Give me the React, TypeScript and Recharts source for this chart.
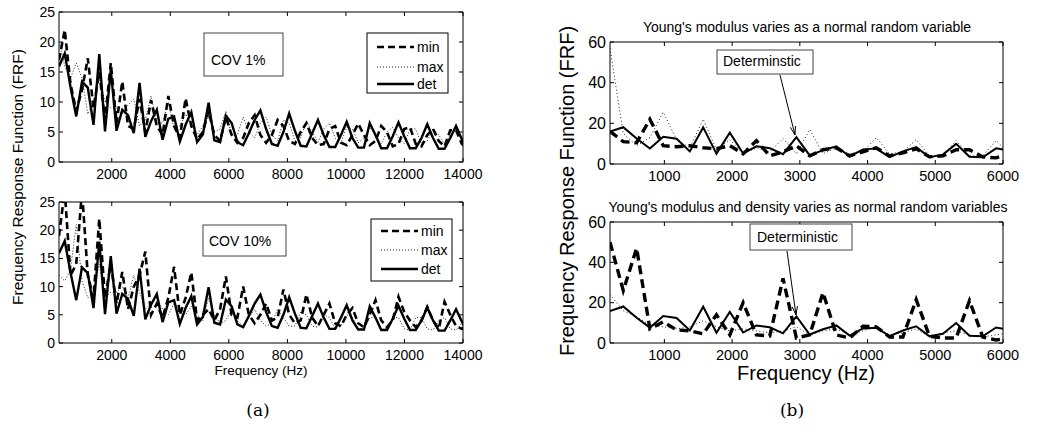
import { LineChart, Line, XAxis, YAxis } from 'recharts';

/* ------------------------------------------------------------------ */
/* Data                                            */
/* ------------------------------------------------------------------ */

const FREQ_HZ = [
  197, 393, 590, 786, 983, 1180, 1376, 1573, 1769, 1966, 2163, 2359, 2556, 2752, 2949, 3146,
  3342, 3539, 3735, 3932, 4129, 4325, 4522, 4718, 4915, 5112, 5308, 5505, 5701, 5898, 6095,
  6291, 6488, 6684, 6881, 7078, 7274, 7471, 7667, 7864, 8061, 8257, 8454, 8650, 8847, 9044,
  9240, 9437, 9633, 9830, 10027, 10223, 10420, 10616, 10813, 11010, 11206, 11403, 11599,
  11796, 11993, 12189, 12386, 12582, 12779, 12976, 13172, 13369, 13565, 13762, 13959, 14155,
];

// deterministic FRF (same curve in every panel)
const DET_FRF = [
  15.9, 18.1, 12.5, 7.6, 13.4, 12.4, 6.2, 18.0, 5.1, 15.4,
  5.2, 8.7, 7.8, 4.8, 13.2, 4.2, 6.8, 8.7, 3.7, 7.2,
  7.6, 3.4, 6.2, 8.3, 3.3, 4.6, 9.9, 3.6, 3.3, 7.7,
  6.5, 3.3, 2.8, 4.8, 7.0, 8.6, 5.5, 3.0, 2.7, 5.0,
  8.1, 5.2, 2.7, 2.6, 4.8, 7.0, 4.5, 2.5, 2.5, 4.5,
  6.7, 4.0, 2.4, 2.4, 6.5, 4.5, 2.3, 2.3, 4.3, 6.6,
  4.3, 2.3, 2.3, 4.0, 6.3, 4.0, 2.2, 2.2, 4.0, 6.0,
  3.8, 1.8,
];

const COV1_MIN = [
  17, 22, 13, 8.5, 12, 17.3, 9, 15, 7, 16.5,
  6.5, 13.4, 6, 5.5, 10.5, 5, 10.3, 6, 4.5, 11,
  6, 4, 10.6, 6, 3.8, 5, 8.5, 4.5, 3.5, 7.5,
  4.5, 3.2, 4, 6.5, 7.8, 4.5, 3.2, 4.5, 7, 6,
  3.5, 3, 5, 6.5, 4, 2.8, 3, 5.5, 6, 3.2,
  2.8, 4.5, 6.4, 4.5, 2.8, 3.5, 6, 5, 2.6, 3,
  5.5, 5.8, 3, 2.6, 4.5, 5.5, 3.5, 2.6, 5.3, 5.3,
  3, 2.3,
];
const COV1_MAX = [
  20, 16, 14, 16.5, 14, 8, 10, 14, 10, 9,
  9, 8, 9.5, 10.5, 6, 7, 11, 6.5, 6.5, 10,
  5.5, 6, 8, 6.5, 4.5, 6, 7.5, 5, 5.5, 8.5,
  4.5, 4.5, 7.5, 5, 4, 6.5, 7.5, 4.5, 3.5, 7,
  6.5, 3.5, 4, 6.8, 5, 3.3, 5.5, 6.5, 4, 3.2,
  5.8, 5.5, 3.2, 4, 5.8, 4.5, 3, 5, 5.8, 4,
  3, 5.5, 5.5, 3, 3.5, 5.6, 4.5, 3, 4.5, 5.5,
  4, 3,
];
const COV10_MIN = [
  19, 27, 12, 14, 27, 12, 8, 22, 8, 14,
  7, 12.6, 6, 10, 12, 16.2, 5, 7, 4.5, 8,
  13.5, 5, 8, 12.5, 4, 5, 6, 4, 6, 11.8,
  5, 4.5, 10, 5, 3.5, 5, 7, 4, 4.5, 9.5,
  5, 3.5, 4, 8.6, 4.5, 3, 5, 7, 3.5, 3,
  5, 6.2, 3.5, 2.8, 5, 7.6, 4, 2.8, 4, 8.2,
  5.5, 4, 2.8, 4, 6.4, 4, 2.5, 7.3, 5, 3,
  2.5, 3,
];
const COV10_MAX = [
  12, 11, 13, 21, 11, 8, 9, 14, 8, 9,
  9, 10, 8, 12, 9, 6, 7, 8, 6, 5,
  7, 6, 5, 6.5, 5, 4, 8, 5, 3.5, 4,
  6, 4, 3, 4.5, 6, 4, 3, 3.5, 6, 4.5,
  3, 3, 5.5, 5, 3, 2.8, 5, 4.5, 2.5, 3,
  5, 4.5, 2.5, 2.5, 4.5, 4.5, 2.4, 2.5, 4.5, 4.5,
  2.5, 2.3, 4.5, 4.5, 2.5, 2.3, 4, 4.5, 2.5, 2.3,
  3.5, 4,
];

// (b): first 31 frequencies only
const YOUNG_MIN = [
  16, 11, 10.5, 22, 9, 8.5, 9, 8, 7.5, 9, 5, 11.5, 4, 6, 9, 4, 7, 8, 4, 6, 8, 4, 5.5, 7.5,
  3.5, 4, 7, 7, 3.5, 3, 5,
];
const YOUNG_MAX = [
  57, 15, 9, 13, 25.5, 12, 8, 22, 7, 12, 5, 8, 6, 12.5, 5, 17, 5, 8, 5, 6, 13, 5, 6, 12, 4,
  4, 11.5, 4, 4, 11.5, 5,
];
const YOUNG_DENS_MIN = [
  50, 26, 47, 7, 10.5, 6.5, 6, 4.5, 14, 4, 20, 4, 3.5, 32, 2.5, 4, 25, 4, 2.5, 8.3, 8, 3, 3,
  21.5, 3.3, 2.5, 2.5, 21, 3, 1.5, 2.5,
];
const YOUNG_DENS_MAX = [
  24, 16, 13, 9, 8, 7, 8, 11, 8, 6, 7, 6, 5, 6, 8, 4, 6, 7, 4, 6, 8, 4, 5, 7, 3, 5, 6, 4, 3,
  4, 5,
];

const A_X_TICKS = [2000, 4000, 6000, 8000, 10000, 12000, 14000];
const A_Y_TICKS = [0, 5, 10, 15, 20, 25];
const B_X_TICKS = [1000, 2000, 3000, 4000, 5000, 6000];
const B_Y_TICKS = [0, 20, 40, 60];

/* ------------------------------------------------------------------ */
/* Styles                                                              */
/* ------------------------------------------------------------------ */

const FONT = '"Liberation Sans", Arial, Helvetica, sans-serif';
const SERIF = '"DejaVu Serif", "Liberation Serif", serif';
const INK = '#000';

type Row = { f: number; det: number; min: number; max: number };

function buildRows(n: number, det: number[], min: number[], max: number[]): Row[] {
  return FREQ_HZ.slice(0, n).map((f, i) => ({ f, det: det[i], min: min[i], max: max[i] }));
}

const rowsCov1 = buildRows(72, DET_FRF, COV1_MIN, COV1_MAX);
const rowsCov10 = buildRows(72, DET_FRF, COV10_MIN, COV10_MAX);
const rowsYoung = buildRows(31, DET_FRF, YOUNG_MIN, YOUNG_MAX);
const rowsYoungDens = buildRows(31, DET_FRF, YOUNG_DENS_MIN, YOUNG_DENS_MAX);

interface LineStyle {
  detWidth: number;
  dashWidth: number;
  dash: string;
  dot: string;
}

const STYLE_A: LineStyle = { detWidth: 2.4, dashWidth: 2.6, dash: '7 4', dot: '1 2' };
const STYLE_B: LineStyle = { detWidth: 2, dashWidth: 3.4, dash: '9 5', dot: '1 2.5' };

interface PanelProps {
  left: number;
  top: number;
  width: number;
  height: number;
  data: Row[];
  xDomain: [number, number];
  xTicks: number[];
  yDomain: [number, number];
  yTicks: number[];
  xFont: number;
  yFont: number;
  lines: LineStyle;
}

const PAD_L = 50;
const PAD_T = 10;
const PAD_R = 30;
const PAD_B = 30;

function Panel(p: PanelProps) {
  const blank = () => '';
  return (
    <div style={{ position: 'absolute', left: p.left - PAD_L, top: p.top - PAD_T }}>
      <LineChart
        width={p.width + PAD_L + PAD_R}
        height={p.height + PAD_T + PAD_B}
        data={p.data}
        margin={{ top: PAD_T - 1, right: PAD_R - 1, bottom: 0, left: 0 }}
      >
        <XAxis
          xAxisId="b"
          dataKey="f"
          type="number"
          domain={p.xDomain}
          ticks={p.xTicks}
          interval={0}
          allowDataOverflow
          height={PAD_B}
          tickSize={-4}
          tickMargin={11}
          stroke={INK}
          tick={{ fill: INK, fontSize: p.xFont }}
        />
        <XAxis
          xAxisId="t"
          orientation="top"
          dataKey="f"
          type="number"
          domain={p.xDomain}
          ticks={p.xTicks}
          interval={0}
          allowDataOverflow
          height={1}
          tickSize={-4}
          stroke={INK}
          tickFormatter={blank}
        />
        <YAxis
          yAxisId="l"
          type="number"
          domain={p.yDomain}
          ticks={p.yTicks}
          interval={0}
          allowDataOverflow
          width={PAD_L}
          tickSize={-4}
          tickMargin={8}
          stroke={INK}
          tick={{ fill: INK, fontSize: p.yFont }}
        />
        <YAxis
          yAxisId="r"
          orientation="right"
          type="number"
          domain={p.yDomain}
          ticks={p.yTicks}
          interval={0}
          allowDataOverflow
          width={1}
          tickSize={-4}
          stroke={INK}
          tickFormatter={blank}
        />
        <Line
          xAxisId="b"
          yAxisId="l"
          dataKey="max"
          stroke="#222"
          strokeWidth={1}
          strokeDasharray={p.lines.dot}
          dot={false}
          activeDot={false}
          isAnimationActive={false}
        />
        <Line
          xAxisId="b"
          yAxisId="l"
          dataKey="min"
          stroke={INK}
          strokeWidth={p.lines.dashWidth}
          strokeDasharray={p.lines.dash}
          dot={false}
          activeDot={false}
          isAnimationActive={false}
        />
        <Line
          xAxisId="b"
          yAxisId="l"
          dataKey="det"
          stroke={INK}
          strokeWidth={p.lines.detWidth}
          dot={false}
          activeDot={false}
          isAnimationActive={false}
        />
      </LineChart>
    </div>
  );
}

/* ------------------------------------------------------------------ */
/* Overlay bits: legends, text boxes, arrows, labels                   */
/* ------------------------------------------------------------------ */

function Legend({ x, y, w, h, rows }: { x: number; y: number; w: number; h: number; rows: number[] }) {
  const items = [
    { label: 'min', dash: STYLE_A.dash, width: 2.6, color: INK },
    { label: 'max', dash: '1 2', width: 1, color: '#222' },
    { label: 'det', dash: undefined, width: 2.4, color: INK },
  ];
  return (
    <g>
      <rect x={x} y={y} width={w} height={h} fill="#fff" stroke={INK} strokeWidth={1} />
      {items.map((it, i) => (
        <g key={it.label}>
          <line
            x1={x + 10}
            x2={x + 47}
            y1={rows[i]}
            y2={rows[i]}
            stroke={it.color}
            strokeWidth={it.width}
            strokeDasharray={it.dash}
          />
          <text x={x + 50} y={rows[i] + 5} fontSize={14}>
            {it.label}
          </text>
        </g>
      ))}
    </g>
  );
}

function TextBox({ x, y, w, h, text, tx, ty }: { x: number; y: number; w: number; h: number; text: string; tx: number; ty: number }) {
  return (
    <g>
      <rect x={x} y={y} width={w} height={h} fill="#fff" stroke="#444" strokeWidth={1} />
      <text x={tx} y={ty} fontSize={14}>
        {text}
      </text>
    </g>
  );
}

function Arrow({ x1, y1, x2, y2 }: { x1: number; y1: number; x2: number; y2: number }) {
  const ang = Math.atan2(y2 - y1, x2 - x1);
  const len = 9;
  const spread = 0.3;
  const a1 = ang + Math.PI - spread;
  const a2 = ang + Math.PI + spread;
  return (
    <g stroke={INK} strokeWidth={1} fill="none">
      <line x1={x1} y1={y1} x2={x2} y2={y2} />
      <polyline
        points={`${x2 + len * Math.cos(a1)},${y2 + len * Math.sin(a1)} ${x2},${y2} ${x2 + len * Math.cos(a2)},${y2 + len * Math.sin(a2)}`}
      />
    </g>
  );
}

export default function App() {
  return (
    <div
      style={{
        position: 'fixed',
        left: 0,
        top: 0,
        width: 1040,
        height: 434,
        background: '#fff',
        fontFamily: FONT,
        overflow: 'hidden',
      }}
    >
      <Panel left={59} top={12} width={404} height={150} data={rowsCov1} xDomain={[197, 14000]} xTicks={A_X_TICKS} yDomain={[0, 25]} yTicks={A_Y_TICKS} xFont={14} yFont={14} lines={STYLE_A} />
      <Panel left={59} top={202} width={404} height={141} data={rowsCov10} xDomain={[197, 14000]} xTicks={A_X_TICKS} yDomain={[0, 25]} yTicks={A_Y_TICKS} xFont={14} yFont={14} lines={STYLE_A} />
      <Panel left={610} top={42} width={393} height={122} data={rowsYoung} xDomain={[197, 6000]} xTicks={B_X_TICKS} yDomain={[0, 60]} yTicks={B_Y_TICKS} xFont={14.5} yFont={16} lines={STYLE_B} />
      <Panel left={610} top={222} width={393} height={121} data={rowsYoungDens} xDomain={[197, 6000]} xTicks={B_X_TICKS} yDomain={[0, 60]} yTicks={B_Y_TICKS} xFont={14.5} yFont={16} lines={STYLE_B} />

      <svg width={1040} height={434} style={{ position: 'absolute', left: 0, top: 0, pointerEvents: 'none' }} fontFamily={FONT}>
        <Legend x={367} y={33} w={81} h={60} rows={[47, 67, 84]} />
        <Legend x={371} y={219} w={81} h={62} rows={[231, 250, 269]} />
        <TextBox x={204} y={33} w={79} h={43} text="COV 1%" tx={211} ty={65} />
        <TextBox x={203} y={225} w={83} h={31} text="COV 10%" tx={209} ty={246} />

        <TextBox x={717} y={50} w={96} h={24} text="Determinstic" tx={723} ty={66} />
        <Arrow x1={780} y1={75} x2={795} y2={135} />
        <TextBox x={750} y={224} w={102} h={26} text="Deterministic" tx={757} ty={242} />
        <Arrow x1={787} y1={251} x2={796} y2={315} />

        <text x={807} y={32} fontSize={14} textAnchor="middle">
          Young's modulus varies as a normal random variable
        </text>
        <text x={808} y={212} fontSize={14} textAnchor="middle">
          Young's modulus and density varies as normal random variables
        </text>

        <text x={261} y={375} fontSize={13.5} textAnchor="middle">
          Frequency (Hz)
        </text>
        <text transform="translate(23,177) rotate(-90)" fontSize={15.5} textAnchor="middle">
          Frequency Response Function (FRF)
        </text>
        <text x={806} y={380} fontSize={20} textAnchor="middle">
          Frequency (Hz)
        </text>
        <text transform="translate(574,191) rotate(-90)" fontSize={20} textAnchor="middle">
          Frequency Response Function (FRF)
        </text>

        <text x={258} y={416} fontSize={17} textAnchor="middle" fontFamily={SERIF}>
          (a)
        </text>
        <text x={792} y={416} fontSize={17} textAnchor="middle" fontFamily={SERIF}>
          (b)
        </text>
      </svg>
    </div>
  );
}
